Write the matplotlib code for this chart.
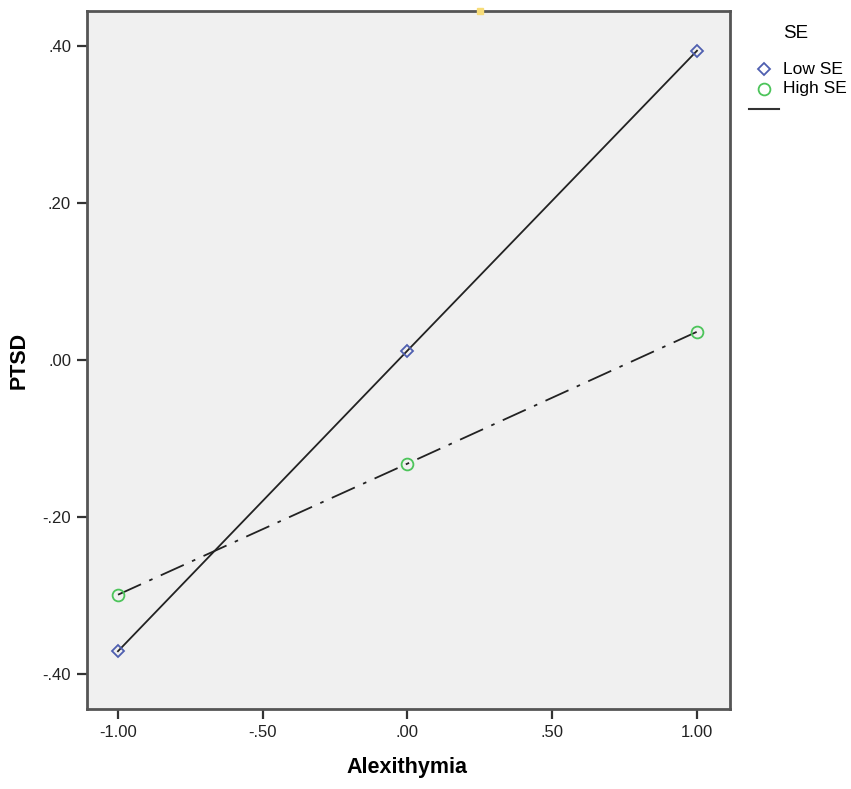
import numpy as np
import matplotlib.pyplot as plt
from matplotlib.lines import Line2D

plt.rcParams['font.family'] = ['Liberation Sans', 'DejaVu Sans']

# values
alexithymia = [-1.0, 0.0, 1.0]
low_se = [-0.371, 0.012, 0.394]
high_se = [-0.299, -0.132, 0.036]
x_ticks = [-1.0, -0.5, 0.0, 0.5, 1.0]
x_tick_labels = ["-1.00", "-.50", ".00", ".50", "1.00"]
y_ticks = [-0.4, -0.2, 0.0, 0.2, 0.4]
y_tick_labels = ["-.40", "-.20", ".00", ".20", ".40"]
legend_title = "SE"
legend_labels = ["Low SE", "High SE"]

blue = "#4f5fb0"
green = "#4cc45a"
frame = "#555555"
W, H = 851, 789

fig = plt.figure(figsize=(W / 100, H / 100), dpi=100)
ax = fig.add_axes([87 / W, 80 / H, 643 / W, 698 / H])
ax.set_facecolor("#f0f0f0")

# fit lines
ax.plot(alexithymia, low_se, color="#222222", lw=1.3, zorder=2)
ax.plot(alexithymia, high_se, color="#222222", lw=1.3, zorder=2,
        dashes=(14, 5, 2, 5))

ax.plot(alexithymia, low_se, ls="none", marker="D", ms=6.5, mfc="none",
        mec=blue, mew=1.3, zorder=3)
ax.plot(alexithymia, high_se, ls="none", marker="o", ms=8.5, mfc="none",
        mec=green, mew=1.3, zorder=3)

# little yellow artefact on top border
ax.plot([0.252], [0.4446], marker="s", ms=5, color="#f7dc78", mec="#f7dc78",
        clip_on=False, zorder=5)

ax.set_xlim(-1.107, 1.114)
ax.set_ylim(-0.4446, 0.4446)
ax.set_xticks(x_ticks)
ax.set_xticklabels(x_tick_labels)
ax.set_yticks(y_ticks)
ax.set_yticklabels(y_tick_labels)
ax.tick_params(direction="out", length=7.5, width=1.6, color="#333333",
               labelsize=12, labelcolor="#222222", pad=4)

for s in ax.spines.values():
    s.set_color(frame)
    s.set_linewidth(2)

fig.text(407 / W, 1 - 767 / H, "Alexithymia", fontsize=15.5, fontweight="bold",
         ha="center", va="center")
fig.text(19 / W, 1 - 360 / H, "PTSD", fontsize=15.5, fontweight="bold",
         ha="center", va="center", rotation=90)

# legend, placed by hand like the SPSS one
fig.text(783 / W, 1 - 34 / H, legend_title, fontsize=13.5, va="center", ha="left")
fig.text(783 / W, 1 - 69 / H, legend_labels[0], fontsize=12.5, va="center", ha="left")
fig.text(783 / W, 1 - 89 / H, legend_labels[1], fontsize=12.5, va="center", ha="left")
fig.add_artist(Line2D([764 / W], [1 - 69 / H], ls="none", marker="D", ms=6.5,
                      mfc="none", mec=blue, mew=1.3))
fig.add_artist(Line2D([764 / W], [1 - 89 / H], ls="none", marker="o", ms=8.5,
                      mfc="none", mec=green, mew=1.3))
fig.add_artist(Line2D([749 / W, 779 / W], [1 - 109 / H, 1 - 109 / H],
                      color="#333333", lw=1.5))

fig.savefig("out.png", dpi=100)
